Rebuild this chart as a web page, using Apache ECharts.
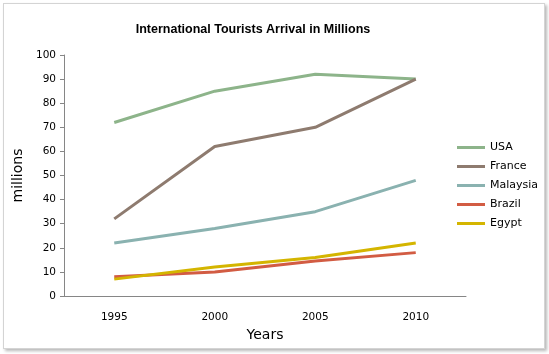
<!DOCTYPE html>
<html>
<head>
<meta charset="utf-8">
<script src="https://cdn.jsdelivr.net/npm/echarts@6/dist/echarts.min.js"></script>
<style>
  html, body { margin: 0; padding: 0; background: #fff; }
  #frame {
    position: absolute; left: 3px; top: 3px; width: 540px; height: 344px;
    border: 1px solid #d4d4d4; box-shadow: 2px 2px 3px #b8b8b8; background: #fff;
  }
  #chart-container { position: absolute; left: 0; top: 0; width: 549px; height: 354px; }
</style>
</head>
<body>
<div id="frame"></div>
<div id="chart-container"></div>
<script>
// data
const years = ['1995', '2000', '2005', '2010'];
const usa = [72, 85, 92, 90];
const france = [32, 62, 70, 90];
const malaysia = [22, 28, 35, 48];
const brazil = [8, 10, 14.5, 18];
const egypt = [7, 12, 16, 22];

const seriesNames = ['USA', 'France', 'Malaysia', 'Brazil', 'Egypt'];
const seriesData = [usa, france, malaysia, brazil, egypt];
const colors = ['#8db48a', '#8e7b6f', '#8ab2b0', '#d25c43', '#d4b500'];

const chartContainer = document.getElementById('chart-container');
const myChart = echarts.init(chartContainer, null, { renderer: 'canvas' });

let option = {
  animation: false,
  color: colors,
  title: {
    text: 'International Tourists Arrival in Millions',
    left: 248,
    top: 18,
    textAlign: 'center',
    textStyle: { fontFamily: 'Liberation Sans', fontSize: 12.5, fontWeight: 'bold', color: '#000' }
  },
  legend: {
    orient: 'vertical',
    left: 452,
    top: 137,
    itemWidth: 28,
    itemHeight: 3,
    itemGap: 8,
    icon: 'rect',
    textStyle: { fontFamily: 'DejaVu Sans', fontSize: 11, color: '#000', padding: [0, 0, 0, 0], height: 12 },
    data: seriesNames
  },
  grid: { left: 64, top: 55, right: 83, bottom: 58 },
  xAxis: {
    type: 'category',
    boundaryGap: true,
    data: years,
    name: 'Years',
    nameLocation: 'middle',
    nameGap: 31,
    nameTextStyle: { fontFamily: 'DejaVu Sans', fontSize: 14, color: '#000' },
    axisLine: { lineStyle: { color: '#868686', width: 1 } },
    axisTick: { alignWithLabel: true, length: 4, lineStyle: { color: '#868686' } },
    axisLabel: { margin: 16, fontFamily: 'DejaVu Sans', fontSize: 10.5, color: '#000' }
  },
  yAxis: {
    type: 'value',
    min: 0,
    max: 100,
    interval: 10,
    name: 'millions',
    nameLocation: 'middle',
    nameGap: 36,
    nameTextStyle: { fontFamily: 'DejaVu Sans', fontSize: 14, color: '#000' },
    axisLine: { show: true, lineStyle: { color: '#868686', width: 1 } },
    axisTick: { show: true, length: 4, lineStyle: { color: '#868686' } },
    axisLabel: { margin: 8, fontFamily: 'DejaVu Sans', fontSize: 10.5, color: '#000' },
    splitLine: { show: false }
  },
  series: seriesNames.map((name, i) => ({
    name: name,
    type: 'line',
    data: seriesData[i],
    symbol: 'none',
    lineStyle: { width: 3 }
  }))
};

myChart.setOption(option);
</script>
</body>
</html>
